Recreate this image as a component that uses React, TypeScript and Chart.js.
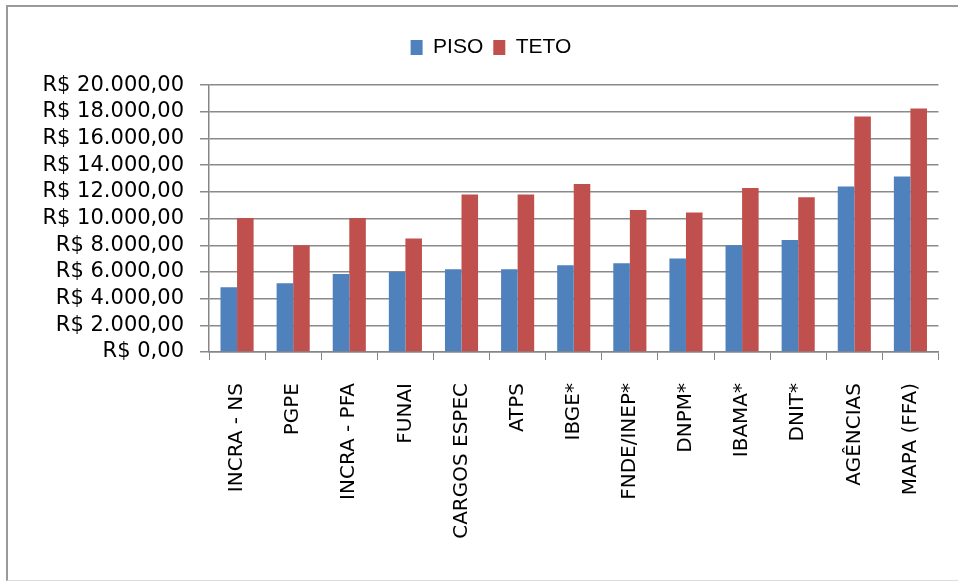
import React, { useEffect, useRef } from "react";
import { Chart, registerables } from "chart.js";

Chart.register(...registerables);

const categories = [
  "INCRA - NS",
  "PGPE",
  "INCRA - PFA",
  "FUNAI",
  "CARGOS ESPEC",
  "ATPS",
  "IBGE*",
  "FNDE/INEP*",
  "DNPM*",
  "IBAMA*",
  "DNIT*",
  "AGÊNCIAS",
  "MAPA (FFA)",
];
const piso = [4850, 5150, 5850, 6000, 6200, 6200, 6500, 6650, 7000, 8000, 8400, 12400, 13150];
const teto = [10050, 8000, 10050, 8500, 11800, 11800, 12600, 10650, 10450, 12300, 11600, 17650, 18250];
const yMin = 0;
const yMax = 20000;
const yStep = 2000;

function formatBRL(v: number): string {
  const fixed = v.toFixed(2);
  const [intPart, dec] = fixed.split(".");
  const withDots = intPart.replace(/\B(?=(\d{3})+(?!\d))/g, ".");
  return "R$ " + withDots + "," + dec;
}

export default function App() {
  const ref = useRef<HTMLCanvasElement | null>(null);
  useEffect(() => {
    if (!ref.current) return;
    const chart = new Chart(ref.current, {
      type: "bar",
      data: {
        labels: categories,
        datasets: [
          {
            label: "PISO",
            data: piso,
            backgroundColor: "#4F81BD",
            borderWidth: 0,
            categoryPercentage: 0.59,
            barPercentage: 1,
          },
          {
            label: "TETO",
            data: teto,
            backgroundColor: "#C0504D",
            borderWidth: 0,
            categoryPercentage: 0.59,
            barPercentage: 1,
          },
        ],
      },
      options: {
        responsive: false,
        animation: false,
        devicePixelRatio: 1,
        layout: { padding: { left: 39, right: 15, top: 27, bottom: 0 } },
        plugins: {
          legend: {
            position: "top",
            labels: {
              boxWidth: 12,
              boxHeight: 15,
              padding: 10,
              color: "#000",
              font: { family: "Liberation Sans", size: 21 },
            },
          },
          title: {
            display: true,
            text: " ",
            position: "top",
            weight: 500,
            font: { size: 1 },
            padding: { top: 8, bottom: 8 },
          },
          tooltip: { enabled: false },
        },
        scales: {
          x: {
            afterFit: (scale: any) => {
              scale.height = 582 - 352;
            },
            grid: {
              drawOnChartArea: false,
              drawTicks: true,
              tickLength: 8,
              color: "#868686",
              offset: true,
            },
            border: { color: "#868686", width: 1.5 },
            ticks: {
              minRotation: 90,
              maxRotation: 90,
              autoSkip: false,
              padding: 23,
              color: "#000",
              font: { family: "DejaVu Sans", size: 20 },
            },
          },
          y: {
            min: yMin,
            max: yMax,
            afterFit: (scale: any) => {
              scale.width = 170;
            },
            grid: {
              color: "#8a8a8a",
              lineWidth: 1.5,
              drawTicks: true,
              tickLength: 9,
            },
            border: { color: "#868686", width: 1.5 },
            ticks: {
              stepSize: yStep,
              autoSkip: false,
              padding: 16,
              color: "#000",
              font: { family: "DejaVu Sans", size: 21 },
              callback: (v: any) => formatBRL(Number(v)),
            },
          },
        },
      },
    });
    return () => chart.destroy();
  }, []);
  return (
    <div
      style={{
        position: "fixed",
        left: 0,
        top: 0,
        width: 958,
        height: 582,
        background: "#fff",
        overflow: "hidden",
      }}
    >
      <div
        style={{
          position: "absolute",
          left: 6,
          top: 5,
          width: 1000,
          height: 576,
          borderTop: "2px solid #9a9a9a",
          borderLeft: "2px solid #9a9a9a",
          borderBottom: "1px solid #dcdcdc",
          boxSizing: "border-box",
        }}
      />
      <canvas
        ref={ref}
        width={958}
        height={582}
        style={{ position: "absolute", left: 0, top: 0, width: 958, height: 582 }}
      />
    </div>
  );
}
